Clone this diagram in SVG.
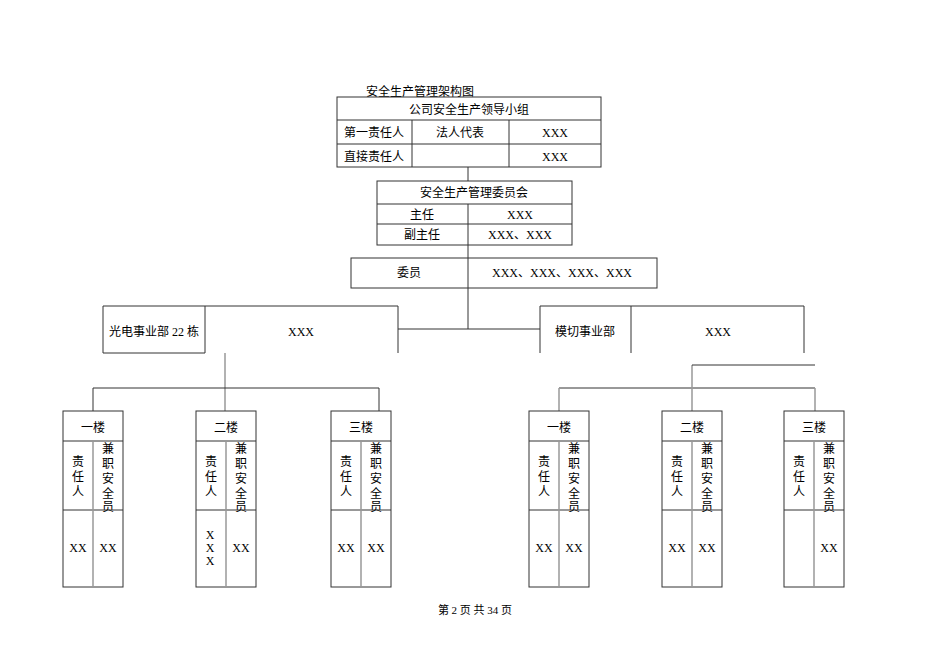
<svg xmlns="http://www.w3.org/2000/svg" width="950" height="672" viewBox="0 0 950 672">
<style>
text{font-family:"Liberation Serif","Noto Sans CJK SC",serif;font-size:12px;fill:#000}
.m{text-anchor:middle}
.b{fill:none;stroke:#333;stroke-width:1}
.g{stroke:#999;stroke-width:1.5;fill:none}
.l{stroke:#333;stroke-width:1;fill:none}
</style>
<rect width="950" height="672" fill="#fff"/>
<text x="366" y="96">安全生产管理架构图</text>
<g id="leader">
<rect class="b" x="337" y="97" width="264" height="70"/>
<path class="l" d="M337 120H601M337 144H601M412 120V167M509 120V167"/>
<text class="m" x="469" y="114">公司安全生产领导小组</text>
<text class="m" x="374" y="137">第一责任人</text><text class="m" x="460" y="137">法人代表</text><text class="m" x="555" y="137">XXX</text>
<text class="m" x="374" y="161">直接责任人</text><text class="m" x="555" y="161">XXX</text>
</g>
<g id="committee">
<rect class="b" x="377" y="181" width="195" height="64"/>
<path class="l" d="M377 204H572M377 224H572M468 204V245"/>
<text class="m" x="474" y="197">安全生产管理委员会</text>
<text class="m" x="422" y="219">主任</text><text class="m" x="520" y="219">XXX</text>
<text class="m" x="422" y="239">副主任</text><text class="m" x="520" y="239">XXX、XXX</text>
</g>
<g id="members">
<rect class="b" x="351" y="258" width="306" height="30"/>
<path class="l" d="M468 258V288"/>
<text class="m" x="409" y="277">委员</text><text class="m" x="562" y="277">XXX、XXX、XXX、XXX</text>
</g>
<g id="dept1">
<path class="l" d="M103 306H398V353M103 306V353H205V306"/>
<text class="m" x="154" y="336">光电事业部 22 栋</text><text class="m" x="301" y="336">XXX</text>
</g>
<g id="dept2">
<path class="l" d="M540 353V306H804V353M631 306V353"/>
<text class="m" x="585" y="336">模切事业部</text><text class="m" x="718" y="336">XXX</text>
</g>
<g id="connectors">
<path class="l" d="M468 167V181M468 245V258M468 288V329M398 329H540"/>
<path class="g" d="M225 353V411"/>
<path class="l" d="M93 411V388H379V411"/>
<path class="l" d="M559 388H815"/>
<path class="g" d="M559 388V411M815 388V411M692 411V365"/>
<path class="l" d="M692 365H815"/>
</g>
<defs>
<g id="flr">
<rect class="b" x="0" y="0" width="60" height="176"/>
<path class="l" d="M0 30H60M0 99H60"/>
<path class="g" d="M30 30V176"/>
<text class="m" x="15" y="55">责</text><text class="m" x="15" y="70">任</text><text class="m" x="15" y="85">人</text>
<text class="m" x="45" y="42">兼</text><text class="m" x="45" y="57">职</text><text class="m" x="45" y="72">安</text><text class="m" x="45" y="87">全</text><text class="m" x="45" y="102" dy="-2">员</text>
</g>
</defs>
<g id="f1"><use href="#flr" x="63" y="411"/><text class="m" x="93" y="432">一楼</text><text class="m" x="78" y="552">XX</text><text class="m" x="108" y="552">XX</text></g>
<g id="f2"><use href="#flr" x="196" y="411"/><text class="m" x="226" y="432">二楼</text><text class="m" x="210" y="539">X</text><text class="m" x="210" y="552">X</text><text class="m" x="210" y="565">X</text><text class="m" x="241" y="552">XX</text></g>
<g id="f3"><use href="#flr" x="331" y="411"/><text class="m" x="361" y="432">三楼</text><text class="m" x="346" y="552">XX</text><text class="m" x="376" y="552">XX</text></g>
<g id="f4"><use href="#flr" x="529" y="411"/><text class="m" x="559" y="432">一楼</text><text class="m" x="544" y="552">XX</text><text class="m" x="574" y="552">XX</text></g>
<g id="f5"><use href="#flr" x="662" y="411"/><text class="m" x="692" y="432">二楼</text><text class="m" x="677" y="552">XX</text><text class="m" x="707" y="552">XX</text></g>
<g id="f6"><use href="#flr" x="784" y="411"/><text class="m" x="814" y="432">三楼</text><text class="m" x="829" y="552">XX</text></g>
<text class="m" x="475" y="614" style="font-size:11px">第 2 页 共 34 页</text>
</svg>
